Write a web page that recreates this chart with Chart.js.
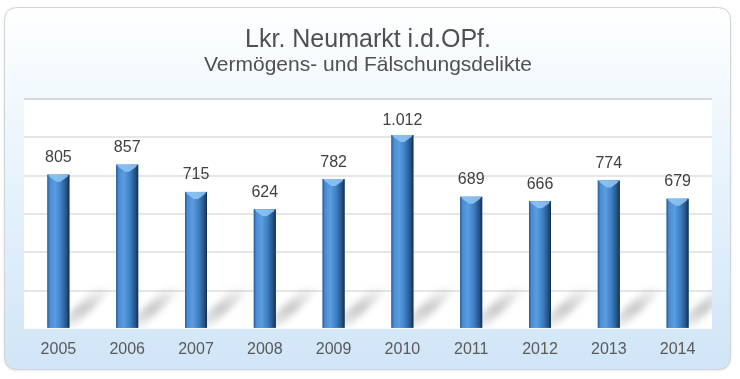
<!DOCTYPE html>
<html><head><meta charset="utf-8">
<script src="https://cdn.jsdelivr.net/npm/chart.js@4/dist/chart.umd.min.js"></script>
<style>html,body{margin:0;padding:0;background:#fff;}canvas{display:block;}</style>
</head><body>
<canvas id="c" width="740" height="379"></canvas>
<script>
const titleText = 'Lkr. Neumarkt i.d.OPf.';
const subtitleText = 'Vermögens- und Fälschungsdelikte';
const years = ['2005','2006','2007','2008','2009','2010','2011','2012','2013','2014'];
const values = [805, 857, 715, 624, 782, 1012, 689, 666, 774, 679];
const yMin = 0, yMax = 1200, yStep = 200;

const FONT = '"Liberation Sans", Arial, sans-serif';
const fmt = v => String(v).replace(/\B(?=(\d{3})+(?!\d))/g, '.');

function roundRect(ctx, x, y, w, h, r) {
  ctx.beginPath();
  ctx.moveTo(x + r, y);
  ctx.lineTo(x + w - r, y);
  ctx.quadraticCurveTo(x + w, y, x + w, y + r);
  ctx.lineTo(x + w, y + h - r);
  ctx.quadraticCurveTo(x + w, y + h, x + w - r, y + h);
  ctx.lineTo(x + r, y + h);
  ctx.quadraticCurveTo(x, y + h, x, y + h - r);
  ctx.lineTo(x, y + r);
  ctx.quadraticCurveTo(x, y, x + r, y);
  ctx.closePath();
}

const panelPlugin = {
  id: 'panel',
  beforeDraw(chart) {
    const ctx = chart.ctx, ca = chart.chartArea;
    ctx.save();
    ctx.fillStyle = '#ffffff';
    ctx.fillRect(0, 0, chart.width, chart.height);
    const g = ctx.createLinearGradient(0, 7, 0, 370);
    g.addColorStop(0, '#ffffff');
    g.addColorStop(0.2, '#f4fafd');
    g.addColorStop(0.5, '#e6f2fb');
    g.addColorStop(1, '#d0e5f7');
    ctx.shadowColor = 'rgba(0,0,0,0.12)';
    ctx.shadowBlur = 3;
    ctx.shadowOffsetY = 1;
    roundRect(ctx, 4.5, 7.5, 726, 362, 13);
    ctx.fillStyle = g;
    ctx.fill();
    ctx.shadowColor = 'transparent';
    ctx.strokeStyle = '#cfd4d8';
    ctx.lineWidth = 1;
    ctx.stroke();
    ctx.fillStyle = '#ffffff';
    ctx.fillRect(ca.left, ca.top, ca.right - ca.left, ca.bottom - ca.top);
    ctx.restore();
  },
  beforeDatasetsDraw(chart) {
    const ctx = chart.ctx, ca = chart.chartArea;
    const meta = chart.getDatasetMeta(0);
    ctx.save();
    ctx.beginPath();
    ctx.rect(ca.left, ca.top, ca.right - ca.left, ca.bottom - ca.top);
    ctx.clip();
    ctx.filter = 'blur(3px)';
    meta.data.forEach(el => {
      const p = el.getProps(['x', 'y', 'base', 'width'], true);
      const l = p.x - p.width / 2, r = p.x + p.width / 2, b = p.base;
      const dx = 42, h = 42;
      const sg = ctx.createLinearGradient(0, b, 0, b - h);
      sg.addColorStop(0, 'rgba(60,60,60,0.05)');
      sg.addColorStop(0.45, 'rgba(60,60,60,0.28)');
      sg.addColorStop(1, 'rgba(60,60,60,0)');
      ctx.fillStyle = sg;
      ctx.beginPath();
      ctx.moveTo(l + 8, b);
      ctx.lineTo(r + 4, b);
      ctx.lineTo(r + 4 + dx, b - h);
      ctx.lineTo(l + 8 + dx, b - h);
      ctx.closePath();
      ctx.fill();
    });
    ctx.restore();
  },
  afterDatasetsDraw(chart) {
    const ctx = chart.ctx, ca = chart.chartArea;
    const meta = chart.getDatasetMeta(0);
    ctx.save();
    meta.data.forEach((el, i) => {
      const p = el.getProps(['x', 'y', 'base', 'width'], true);
      const l = p.x - p.width / 2, r = p.x + p.width / 2;
      const g = ctx.createLinearGradient(l, 0, r, 0);
      g.addColorStop(0, '#2b5c92');
      g.addColorStop(0.12, '#4a8dd6');
      g.addColorStop(0.35, '#5a9de0');
      g.addColorStop(0.62, '#3e7fc5');
      g.addColorStop(0.85, '#28568a');
      g.addColorStop(1, '#152f4e');
      ctx.fillStyle = g;
      ctx.fillRect(l, p.y, r - l, p.base - p.y);
      ctx.fillStyle = 'rgba(140,195,242,0.9)';
      ctx.beginPath();
      ctx.moveTo(l + 1, p.y);
      ctx.lineTo(r - 1, p.y);
      ctx.lineTo(r - 2, p.y + 2);
      ctx.lineTo(p.x + 2, p.y + 7);
      ctx.lineTo(p.x - 2, p.y + 7);
      ctx.lineTo(l + 2, p.y + 2);
      ctx.closePath();
      ctx.fill();
      ctx.fillStyle = '#404040';
      ctx.font = '16px ' + FONT;
      ctx.textAlign = 'center';
      ctx.textBaseline = 'alphabetic';
      const ly = Math.max(p.y - 12.5, ca.top + 26);
      ctx.fillText(fmt(values[i]), p.x, ly);
    });
    ctx.restore();
  }
};

new Chart(document.getElementById('c'), {
  type: 'bar',
  data: {
    labels: years,
    datasets: [{
      data: values,
      backgroundColor: '#3d7cc0',
      borderWidth: 0,
      barPercentage: 0.32,
      categoryPercentage: 1
    }]
  },
  options: {
    responsive: false,
    animation: false,
    devicePixelRatio: 1,
    layout: { padding: { left: 24, right: 28, top: 0, bottom: 9 } },
    plugins: {
      legend: { display: false },
      tooltip: { enabled: false },
      title: {
        display: true, text: titleText, color: '#505050',
        font: { family: FONT, size: 25, weight: 'normal', lineHeight: 1.0 },
        padding: { top: 27.5, bottom: 0 }
      },
      subtitle: {
        display: true, text: subtitleText, color: '#505050',
        font: { family: FONT, size: 21, weight: 'normal', lineHeight: 1.2 },
        padding: { top: 0, bottom: 21.3 }
      }
    },
    scales: {
      x: {
        grid: { display: false, drawTicks: false, tickLength: 0 },
        border: { display: false },
        ticks: { color: '#595959', padding: 11, font: { family: FONT, size: 16 } }
      },
      y: {
        min: yMin, max: yMax,
        ticks: { display: false, stepSize: yStep },
        border: { display: false },
        grid: {
          drawTicks: false,
          lineWidth: 2,
          color: c => c.tick.value === yMin ? 'rgba(0,0,0,0)' : (c.tick.value === yMax ? '#d6d9dc' : '#e6e6e6')
        }
      }
    }
  },
  plugins: [panelPlugin]
});
</script>
</body></html>
